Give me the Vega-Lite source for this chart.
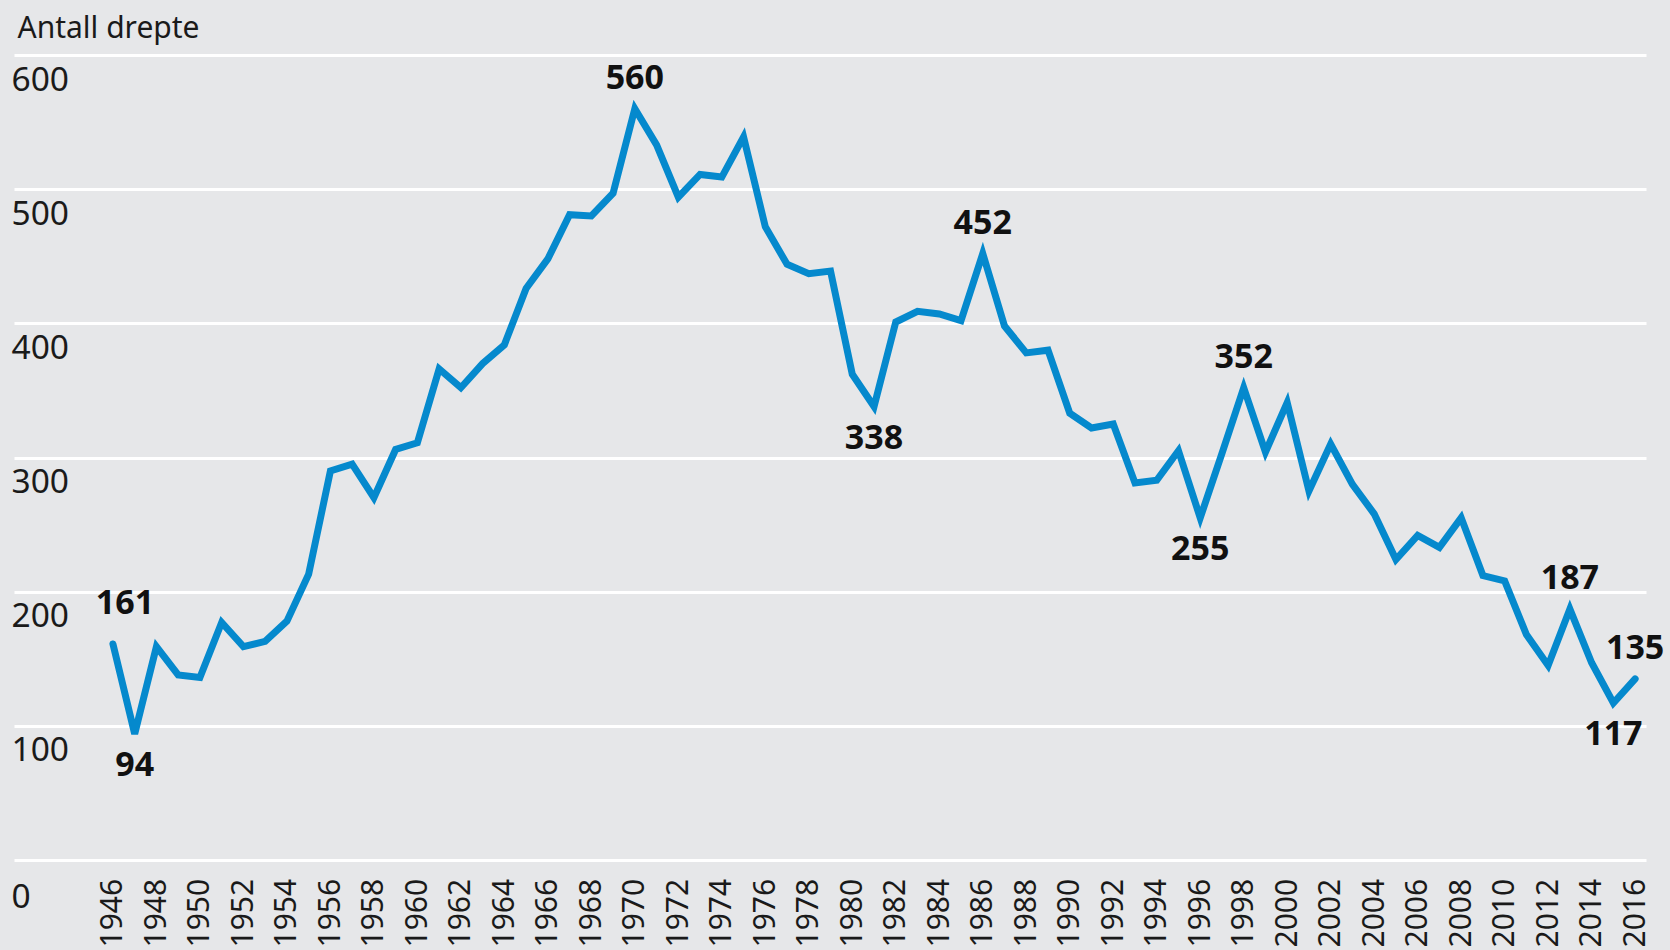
{
  "$schema": "https://vega.github.io/schema/vega-lite/v6.json",
  "width": 1632,
  "height": 805,
  "autosize": {"type": "none"},
  "padding": {"left": 14, "top": 55, "right": 24, "bottom": 90},
  "background": "#e6e7e9",
  "config": {"view": {"stroke": null}, "font": "Noto Sans"},
  "data": {"values": [
    {"year": 1946, "value": 161}, {"year": 1947, "value": 94}, {"year": 1948, "value": 159}, {"year": 1949, "value": 138},
    {"year": 1950, "value": 136}, {"year": 1951, "value": 177}, {"year": 1952, "value": 159}, {"year": 1953, "value": 163},
    {"year": 1954, "value": 178}, {"year": 1955, "value": 213}, {"year": 1956, "value": 290}, {"year": 1957, "value": 295},
    {"year": 1958, "value": 270}, {"year": 1959, "value": 306}, {"year": 1960, "value": 311}, {"year": 1961, "value": 366},
    {"year": 1962, "value": 352}, {"year": 1963, "value": 370}, {"year": 1964, "value": 384}, {"year": 1965, "value": 426},
    {"year": 1966, "value": 448}, {"year": 1967, "value": 481}, {"year": 1968, "value": 480}, {"year": 1969, "value": 497},
    {"year": 1970, "value": 560}, {"year": 1971, "value": 533}, {"year": 1972, "value": 494}, {"year": 1973, "value": 511},
    {"year": 1974, "value": 509}, {"year": 1975, "value": 539}, {"year": 1976, "value": 472}, {"year": 1977, "value": 444},
    {"year": 1978, "value": 437}, {"year": 1979, "value": 439}, {"year": 1980, "value": 362}, {"year": 1981, "value": 338},
    {"year": 1982, "value": 401}, {"year": 1983, "value": 409}, {"year": 1984, "value": 407}, {"year": 1985, "value": 402},
    {"year": 1986, "value": 452}, {"year": 1987, "value": 398}, {"year": 1988, "value": 378}, {"year": 1989, "value": 380},
    {"year": 1990, "value": 333}, {"year": 1991, "value": 322}, {"year": 1992, "value": 325}, {"year": 1993, "value": 281},
    {"year": 1994, "value": 283}, {"year": 1995, "value": 305}, {"year": 1996, "value": 255}, {"year": 1997, "value": 303},
    {"year": 1998, "value": 352}, {"year": 1999, "value": 304}, {"year": 2000, "value": 341}, {"year": 2001, "value": 275},
    {"year": 2002, "value": 310}, {"year": 2003, "value": 280}, {"year": 2004, "value": 258}, {"year": 2005, "value": 224},
    {"year": 2006, "value": 242}, {"year": 2007, "value": 233}, {"year": 2008, "value": 255}, {"year": 2009, "value": 212},
    {"year": 2010, "value": 208}, {"year": 2011, "value": 168}, {"year": 2012, "value": 145}, {"year": 2013, "value": 187},
    {"year": 2014, "value": 147}, {"year": 2015, "value": 117}, {"year": 2016, "value": 135}
  ]},
  "encoding": {
    "x": {
      "field": "year", "type": "quantitative",
      "scale": {"domain": [1941.45, 2016.5], "nice": false, "zero": false},
      "axis": {
        "values": [1946, 1948, 1950, 1952, 1954, 1956, 1958, 1960, 1962, 1964, 1966, 1968, 1970, 1972, 1974, 1976, 1978, 1980, 1982, 1984, 1986, 1988, 1990, 1992, 1994, 1996, 1998, 2000, 2002, 2004, 2006, 2008, 2010, 2012, 2014, 2016],
        "format": "d", "labelAngle": 270, "labelAlign": "left", "labelBaseline": "middle",
        "labelPadding": 87, "ticks": false, "tickSize": 0, "domain": false, "grid": false, "title": null,
        "labelFontSize": 30, "labelColor": "#1a1a1a", "labelOverlap": false, "labelFlush": false
      }
    },
    "y": {
      "field": "value", "type": "quantitative",
      "scale": {"domain": [0, 600], "nice": false},
      "axis": {
        "values": [0, 100, 200, 300, 400, 500, 600],
        "title": "Antall drepte", "titleAngle": 0, "titleAlign": "left", "titleBaseline": "alphabetic",
        "titleX": 3, "titleY": -18, "titleFontSize": 30, "titleFontWeight": "normal", "titleColor": "#1a1a1a",
        "labelAlign": "left", "labelBaseline": "alphabetic", "labelPadding": 3,
        "labelOffset": {"condition": {"test": "datum.value == 0", "value": 47}, "value": 35},
        "labelFontSize": 33.5, "labelColor": "#1a1a1a", "labelFlush": false, "labelOverlap": false,
        "ticks": false, "tickSize": 0, "domain": false,
        "grid": true, "gridColor": "#ffffff", "gridWidth": 3, "gridOpacity": 1
      }
    }
  },
  "layer": [
    {"mark": {"type": "line", "color": "#0589cd", "strokeWidth": 7, "strokeCap": "round", "strokeJoin": "miter"}},
    {
      "transform": [{"filter": {"field": "year", "oneOf": [1970, 1986, 1998, 2013, 2016]}}],
      "mark": {"type": "text", "dy": -30, "baseline": "middle", "fontSize": 34, "fontWeight": "bold", "color": "#111111"},
      "encoding": {"text": {"field": "value", "type": "quantitative"}}
    },
    {
      "transform": [{"filter": {"field": "year", "oneOf": [1946]}}],
      "mark": {"type": "text", "dy": -40, "dx": 12, "baseline": "middle", "fontSize": 34, "fontWeight": "bold", "color": "#111111"},
      "encoding": {"text": {"field": "value", "type": "quantitative"}}
    },
    {
      "transform": [{"filter": {"field": "year", "oneOf": [1947, 1981, 1996, 2015]}}],
      "mark": {"type": "text", "dy": 32, "baseline": "middle", "fontSize": 34, "fontWeight": "bold", "color": "#111111"},
      "encoding": {"text": {"field": "value", "type": "quantitative"}}
    }
  ]
}
